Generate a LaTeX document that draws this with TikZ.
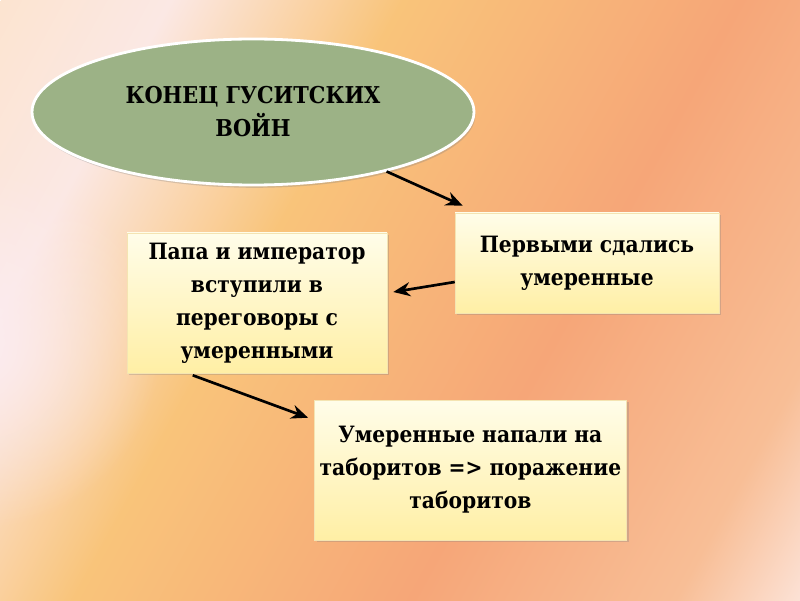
\documentclass[tikz,border=0pt]{standalone}
\usepackage{fontspec}
\setmainfont{DejaVu Serif Condensed}
\usetikzlibrary{arrows.meta,shapes.geometric,shadows,fadings}

\definecolor{bgpeach}{RGB}{252,228,208}
\definecolor{bgpink}{RGB}{251,232,228}
\definecolor{bgyellow}{RGB}{249,196,122}
\definecolor{bgsalmon}{RGB}{246,166,120}
\definecolor{bgorange}{RGB}{248,190,150}
\definecolor{bglight}{RGB}{252,226,214}
\definecolor{bgglow}{RGB}{252,236,240}
\definecolor{headgreen}{RGB}{156,178,134}
\definecolor{boxtop}{RGB}{255,253,233}
\definecolor{boxbottom}{RGB}{255,239,165}
\definecolor{boxedge}{RGB}{244,228,178}

\pgfdeclarehorizontalshading{slidebg}{650bp}{color(0bp)=(bgpeach); color(106bp)=(bgpink);
color(250bp)=(bgyellow); color(460bp)=(bgsalmon); color(624bp)=(bgorange); color(702bp)=(bglight)}
\tikzfading[name=glowfade, inner color=transparent!0, outer color=transparent!100]

\begin{document}
\begin{tikzpicture}[auto]
\tikzstyle{cloud} = [ellipse, draw=white, line width=2pt, fill=headgreen,
minimum width=11.05cm, minimum height=3.65cm, align=center,
font=\rmfamily\fontsize{16.5}{23.5}\selectfont\bfseries,
drop shadow={shadow xshift=1pt, shadow yshift=-2pt, opacity=0.3}]
\tikzstyle{block} = [rectangle, draw=boxedge, thin, top color=boxtop, bottom color=boxbottom,
align=center, font=\rmfamily\fontsize{16}{23.5}\selectfont\bfseries,
drop shadow={shadow xshift=1.5pt, shadow yshift=-1.5pt, opacity=0.3}]
\tikzstyle{line} = [draw, line width=1.9pt, -{Stealth[length=12pt,width=10pt]}];

% background
\useasboundingbox (0,0) rectangle (20,15);
\begin{scope}
\clip (0,0) rectangle (20,15);
\node[rotate=-28.8, inner sep=0, anchor=west] (bg) at (-0.84,13.47) {\pgfuseshading{slidebg}};
\fill[bgglow, path fading=glowfade] (-0.5,6.3) circle (4.5);
\end{scope}

% title
\node [cloud] (head) at (6.325,12.2) {КОНЕЦ ГУСИТСКИХ\\ВОЙН};
% boxes
\node [block, minimum width=6.6cm, minimum height=2.5cm] (first) at (14.675,8.425)
{Первыми сдались\\умеренные};
\node [block, minimum width=6.5cm, minimum height=3.5cm] (second) at (6.425,7.425)
{Папа и император\\вступили в\\переговоры с\\умеренными};
\node [block, minimum width=7.8cm, minimum height=3.5cm] (third) at (11.76,3.25)
{Умеренные напали на\\таборитов => поражение\\таборитов};

\path[line] (head.-24) -- ([xshift=0.2cm,yshift=0.175cm]first.north west);
\path[line] ([yshift=-0.475cm]first.west) -- ([xshift=0.15cm,yshift=0.275cm]second.east);
\path[line] ([xshift=1.65cm,yshift=-0.05cm]second.south west) -- ([xshift=-0.15cm,yshift=-0.45cm]third.north west);

\end{tikzpicture}
\end{document}
